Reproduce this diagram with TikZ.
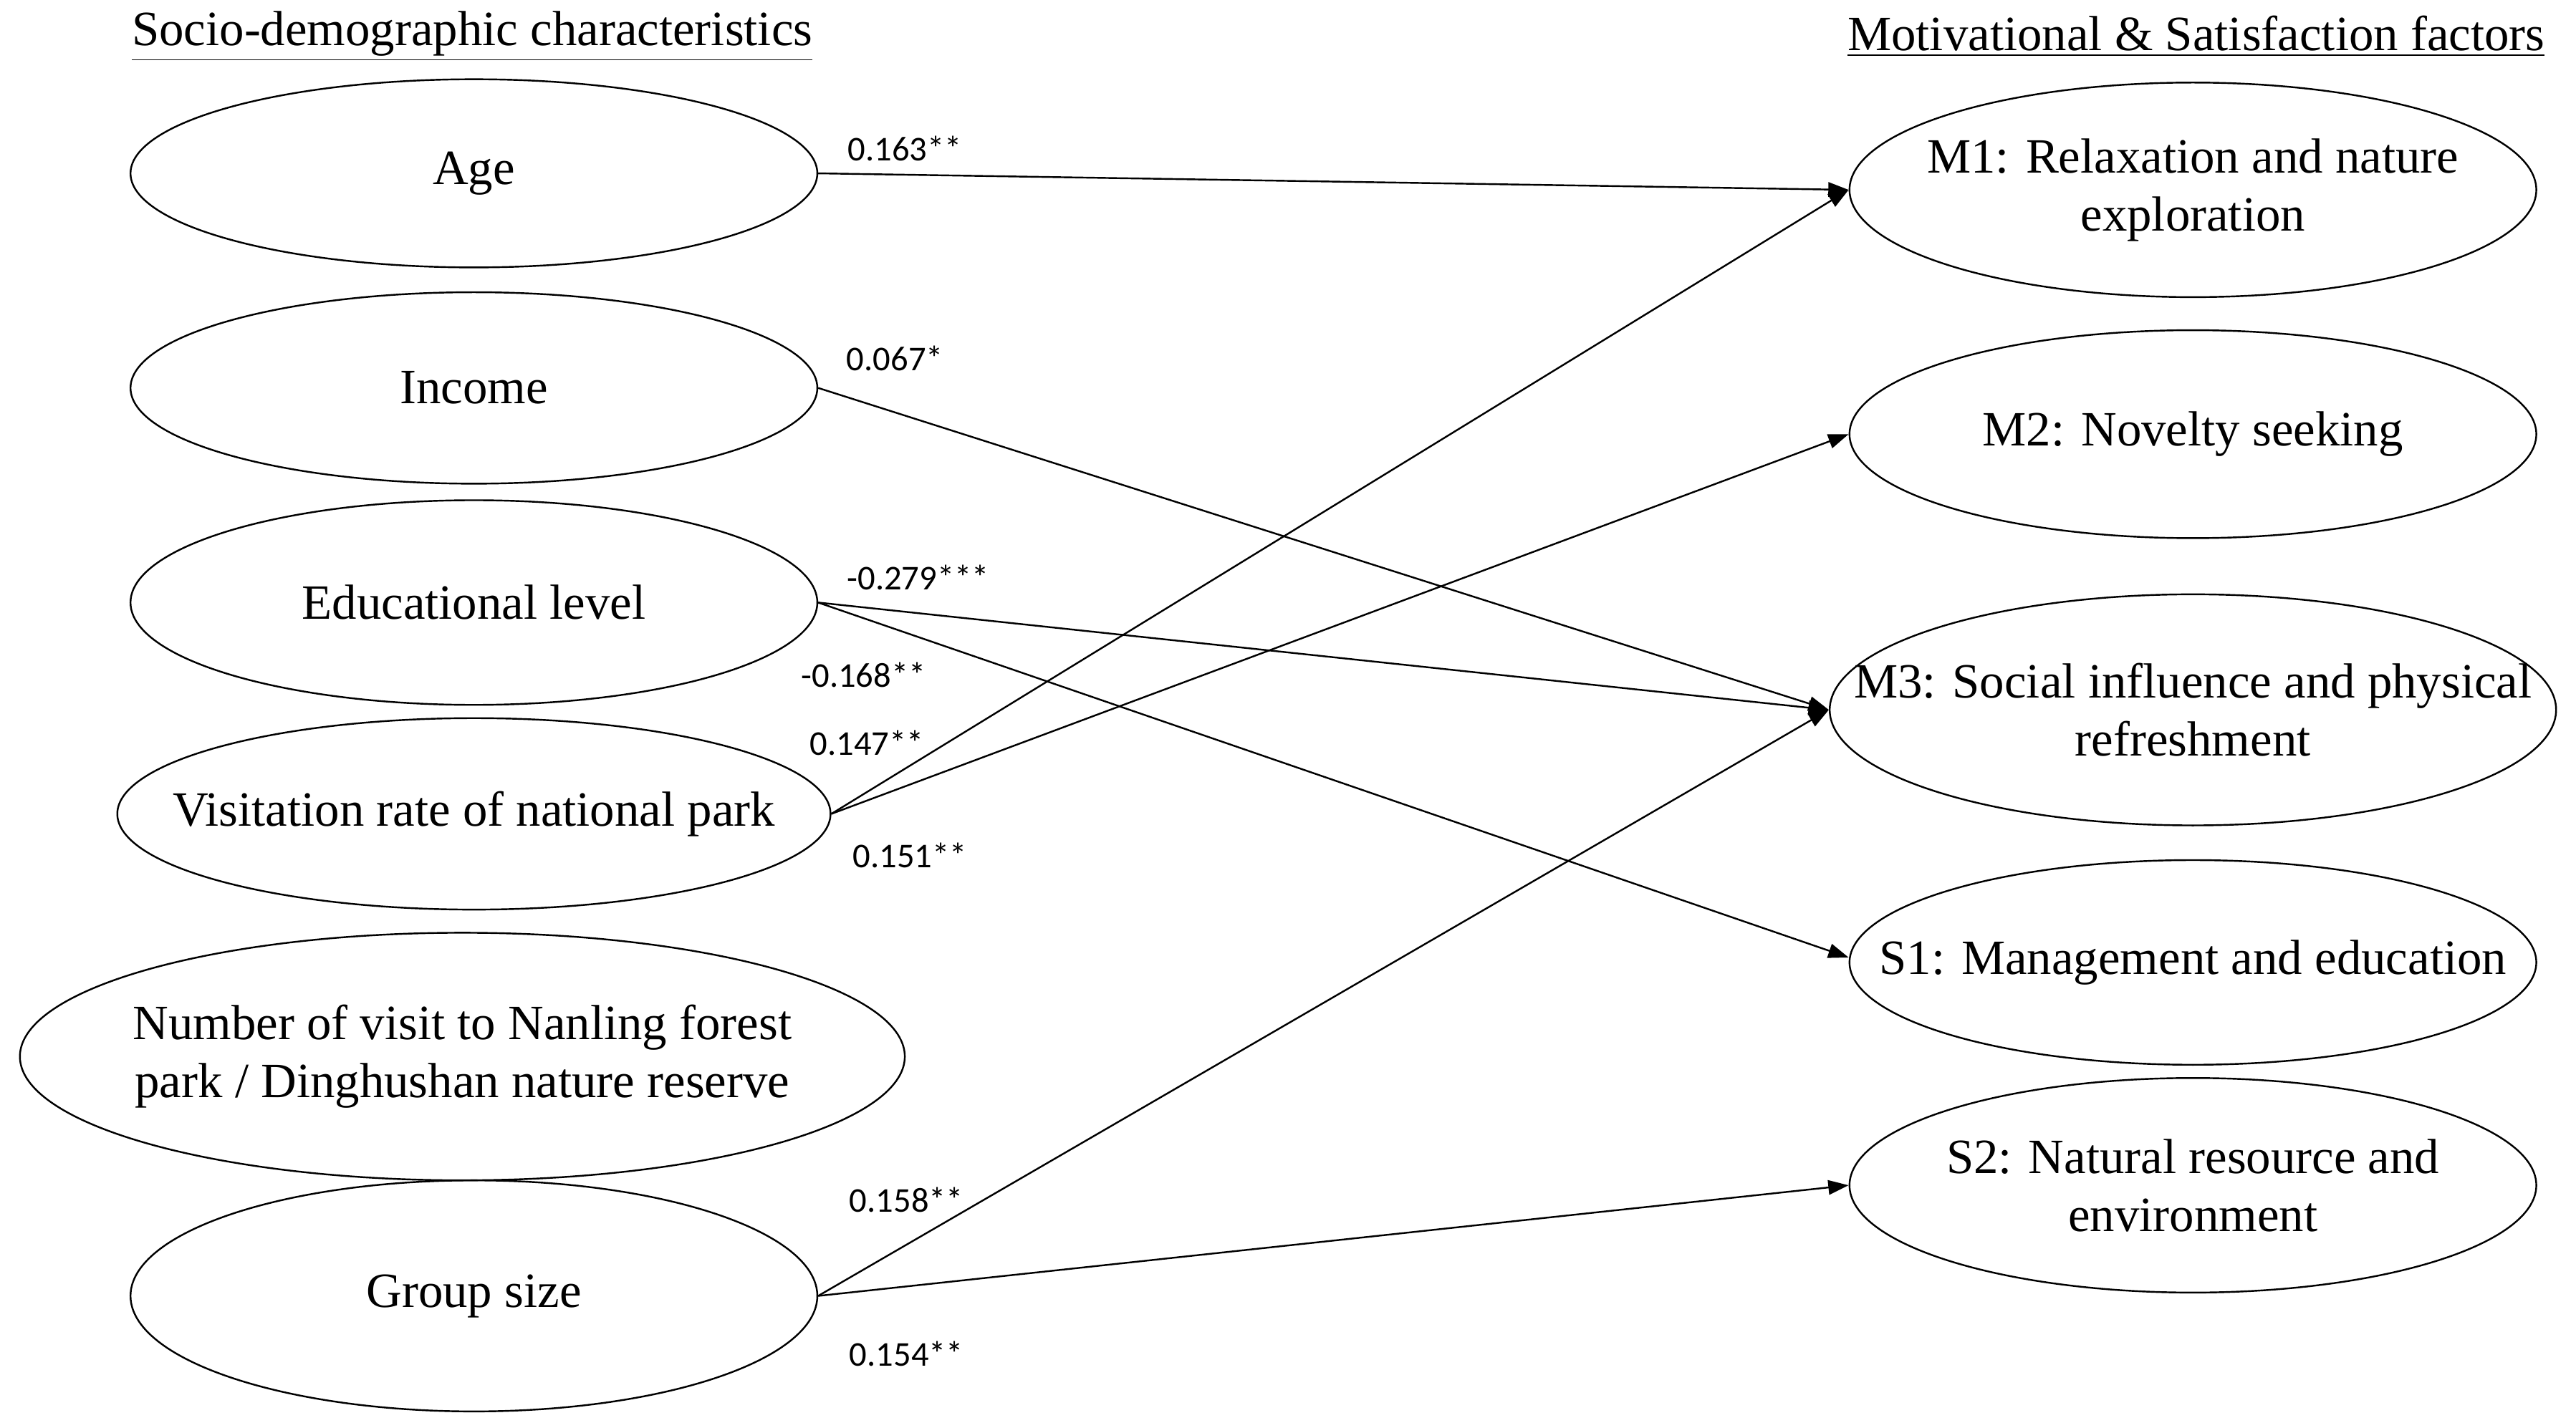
\documentclass[tikz,border=0pt]{standalone}
\usepackage{fontspec}
\setmainfont{Liberation Serif}
\newfontfamily\lab{Carlito}
\usetikzlibrary{shapes.geometric,arrows.meta}
\begin{document}
\begin{tikzpicture}[x=0.02cm,y=-0.02cm,
  el/.style={draw,ellipse,inner sep=0pt,line width=0.6pt},
  tx/.style={align=center,font=\fontsize{17}{20}\selectfont},
  ar/.style={-{Triangle[length=7pt,width=5pt]},line width=0.6pt},
  lb/.style={font=\lab\fontsize{12}{14}\selectfont}]
\useasboundingbox (0,0) rectangle (1560,865);
\node[font=\fontsize{17}{21}\selectfont] (h1) at (286,22) {\underline{Socio-demographic characteristics}};
\node[font=\fontsize{17}{21}\selectfont] (h2) at (1330,22) {\underline{Motivational \& Satisfaction factors}};
\node[el,minimum width=8.32cm,minimum height=2.28cm,label={[tx]center:Age}] (age) at (287,105) {};
\node[el,minimum width=8.32cm,minimum height=2.32cm,label={[tx]center:Income}] (inc) at (287,235) {};
\node[el,minimum width=8.32cm,minimum height=2.48cm,label={[tx]center:Educational level}] (edu) at (287,365) {};
\node[el,minimum width=8.64cm,minimum height=2.32cm,label={[tx]center:Visitation rate of national park}] (vis) at (287,493) {};
\node[el,minimum width=10.72cm,minimum height=3.0cm,label={[tx]center:Number of visit to Nanling forest\\park / Dinghushan nature reserve}] (num) at (280,640) {};
\node[el,minimum width=8.32cm,minimum height=2.8cm,label={[tx]center:Group size}] (grp) at (287,785) {};
\node[el,minimum width=8.32cm,minimum height=2.6cm,label={[tx]center:M1: Relaxation and nature\\exploration}] (m1) at (1328,115) {};
\node[el,minimum width=8.32cm,minimum height=2.52cm,label={[tx]center:M2: Novelty seeking}] (m2) at (1328,263) {};
\node[el,minimum width=8.8cm,minimum height=2.8cm,label={[tx]center:M3: Social influence and physical\\refreshment}] (m3) at (1328,430) {};
\node[el,minimum width=8.32cm,minimum height=2.48cm,label={[tx]center:S1: Management and education}] (s1) at (1328,583) {};
\node[el,minimum width=8.32cm,minimum height=2.6cm,label={[tx]center:S2: Natural resource and\\environment}] (s2) at (1328,718) {};
\draw[ar] (age.east) -- (m1.west);
\draw[ar] (inc.east) -- (m3.west);
\draw[ar] (edu.east) -- (m3.west);
\draw[ar] (edu.east) -- ([yshift=0.06cm]s1.west);
\draw[ar] (vis.east) -- (m1.west);
\draw[ar] (vis.east) -- (m2.west);
\draw[ar] (grp.east) -- (m3.west);
\draw[ar] (grp.east) -- (s2.west);
\node[lb] (l1) at (548,90) {0.163**};
\node[lb] (l2) at (542,217) {0.067*};
\node[lb] (l3) at (556,350) {-0.279***};
\node[lb] (l4) at (523,409) {-0.168**};
\node[lb] (l5) at (525,450) {0.147**};
\node[lb] (l6) at (551,518) {0.151**};
\node[lb] (l7) at (549,727) {0.158**};
\node[lb] (l8) at (549,820) {0.154**};
\end{tikzpicture}
\end{document}
